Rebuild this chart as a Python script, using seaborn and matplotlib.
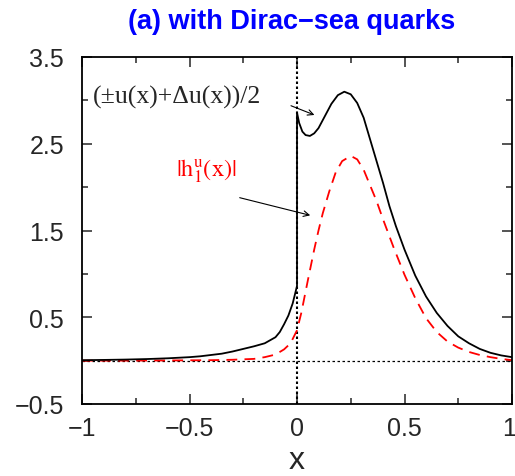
import numpy as np
import pandas as pd
import matplotlib
matplotlib.use("Agg")
import matplotlib.pyplot as plt
import matplotlib.ticker as mtick
import matplotlib.transforms as mtrans
import seaborn as sns

# data
# (±u(x)+Δu(x))/2, jumps at x=0
x_sum = [-1.0, -0.9, -0.8, -0.7, -0.6, -0.5, -0.45, -0.4, -0.35, -0.3, -0.25,
         -0.2, -0.15, -0.1, -0.08, -0.06, -0.04, -0.02, 0.0,
         0.0, 0.01, 0.025, 0.04, 0.06, 0.08, 0.1, 0.13, 0.16, 0.19, 0.22, 0.25,
         0.28, 0.31, 0.34, 0.37, 0.4, 0.43, 0.46, 0.5, 0.55, 0.6, 0.65, 0.7,
         0.75, 0.8, 0.85, 0.9, 0.95, 1.0]
y_sum = [0.005, 0.008, 0.012, 0.018, 0.027, 0.04, 0.05, 0.065, 0.08, 0.105, 0.135,
         0.165, 0.2, 0.27, 0.33, 0.42, 0.52, 0.66, 0.86,
         2.86, 2.74, 2.64, 2.6, 2.59, 2.62, 2.68, 2.82, 2.96, 3.06, 3.10, 3.07,
         2.97, 2.8, 2.55, 2.3, 2.05, 1.78, 1.55, 1.28, 0.98, 0.74, 0.55, 0.4,
         0.28, 0.2, 0.135, 0.09, 0.06, 0.04]

# |h1^u(x)|
x_h1 = [-1.0, -0.8, -0.6, -0.4, -0.3, -0.2, -0.15, -0.1, -0.06, -0.03, 0.0,
        0.02, 0.05, 0.08, 0.1, 0.12, 0.15, 0.18, 0.21, 0.25, 0.28, 0.31, 0.34,
        0.37, 0.4, 0.45, 0.5, 0.55, 0.6, 0.65, 0.7, 0.75, 0.8, 0.85, 0.9, 0.95, 1.0]
y_h1 = [0.0, 0.0, 0.002, 0.005, 0.01, 0.02, 0.04, 0.07, 0.13, 0.2, 0.35,
        0.55, 0.92, 1.28, 1.5, 1.7, 1.95, 2.17, 2.3, 2.36, 2.32, 2.2, 2.02,
        1.84, 1.63, 1.3, 0.99, 0.72, 0.49, 0.33, 0.22, 0.15, 0.1, 0.065, 0.04, 0.02, 0.005]

x_ticks = [-1, -0.5, 0, 0.5, 1]
x_labels = ["\u22121", "\u22120.5", "0", "0.5", "1"]
y_ticks = [-0.5, 0.5, 1.5, 2.5, 3.5]
y_labels = ["\u22120.5", "0.5", "1.5", "2.5", "3.5"]

TITLE = "(a) with Dirac\u2212sea quarks"
LABEL_SUM = "(\u00b1u(x)+\u0394u(x))/2"
LABEL_H1 = r"$|\mathrm{h}^{\mathrm{u}}_{1}(\mathrm{x})|$"

# style
sns.set_style("ticks")
plt.rcParams.update({
    "font.family": ["Liberation Sans", "DejaVu Sans"],
    "mathtext.fontset": "stix",
    "axes.linewidth": 1.3,
    "xtick.direction": "in",
    "ytick.direction": "in",
})

df_sum = pd.DataFrame({"x": x_sum, "y": y_sum})
df_h1 = pd.DataFrame({"x": x_h1, "y": y_h1})

fig = plt.figure(figsize=(5.15, 4.77), dpi=100)
ax = fig.add_axes([82 / 515, 1 - 405 / 477, 430 / 515, 347 / 477])

# reference lines
ax.axhline(0, color="black", lw=0.9, ls=(0, (2, 2)), zorder=1)
ax.axvline(0, color="black", lw=1.5, ls=(0, (1.2, 1.2)), zorder=1)

sns.lineplot(data=df_h1, x="x", y="y", ax=ax, color="#ff0000", lw=1.3,
             estimator=None, sort=False)
ax.lines[-1].set_dashes((6, 4))
sns.lineplot(data=df_sum, x="x", y="y", ax=ax, color="black", lw=1.3,
             estimator=None, sort=False)

ax.set_xlim(-1, 1)
ax.set_ylim(-0.5, 3.5)
ax.set_xticks(x_ticks)
ax.set_xticklabels(x_labels)
ax.set_yticks(y_ticks)
ax.set_yticklabels(y_labels)
ax.xaxis.set_minor_locator(mtick.MultipleLocator(0.25))
ax.yaxis.set_minor_locator(mtick.FixedLocator([0, 1, 2, 3]))
ax.tick_params(which="both", top=True, right=True, width=1.1, labelsize=18)
ax.tick_params(which="major", length=7)
ax.tick_params(which="minor", length=4)
ax.tick_params(axis="x", pad=9)
ax.tick_params(axis="y", pad=13)
for s in ax.spines.values():
    s.set_visible(True)
    s.set_color("black")

# last x label sits on the figure edge, nudge it inside
last = ax.get_xticklabels()[-1]
last.set_transform(last.get_transform()
                   + mtrans.ScaledTranslation(-3 / 100, 0, fig.dpi_scale_trans))

ax.set_xlabel("x", fontsize=23, labelpad=3)
ax.set_ylabel("")

fig.text(292 / 515, 1 - 22 / 477, TITLE, ha="center", va="center",
         fontsize=19.5, fontweight="bold", color="#0000ff")

# annotations
ax.text(-0.95, 3.04, LABEL_SUM, fontsize=18.5, family="Liberation Serif",
        va="center", ha="left")
ax.annotate("", xy=(0.093, 2.82), xytext=(-0.04, 2.95),
            arrowprops=dict(arrowstyle="->", color="black", lw=0.8))
ax.text(-0.563, 2.19, LABEL_H1, fontsize=17.5, color="#ff0000",
        va="center", ha="left")
ax.annotate("", xy=(0.074, 1.667), xytext=(-0.279, 1.886),
            arrowprops=dict(arrowstyle="->", color="black", lw=0.8))

fig.savefig("out.png", dpi=100)
